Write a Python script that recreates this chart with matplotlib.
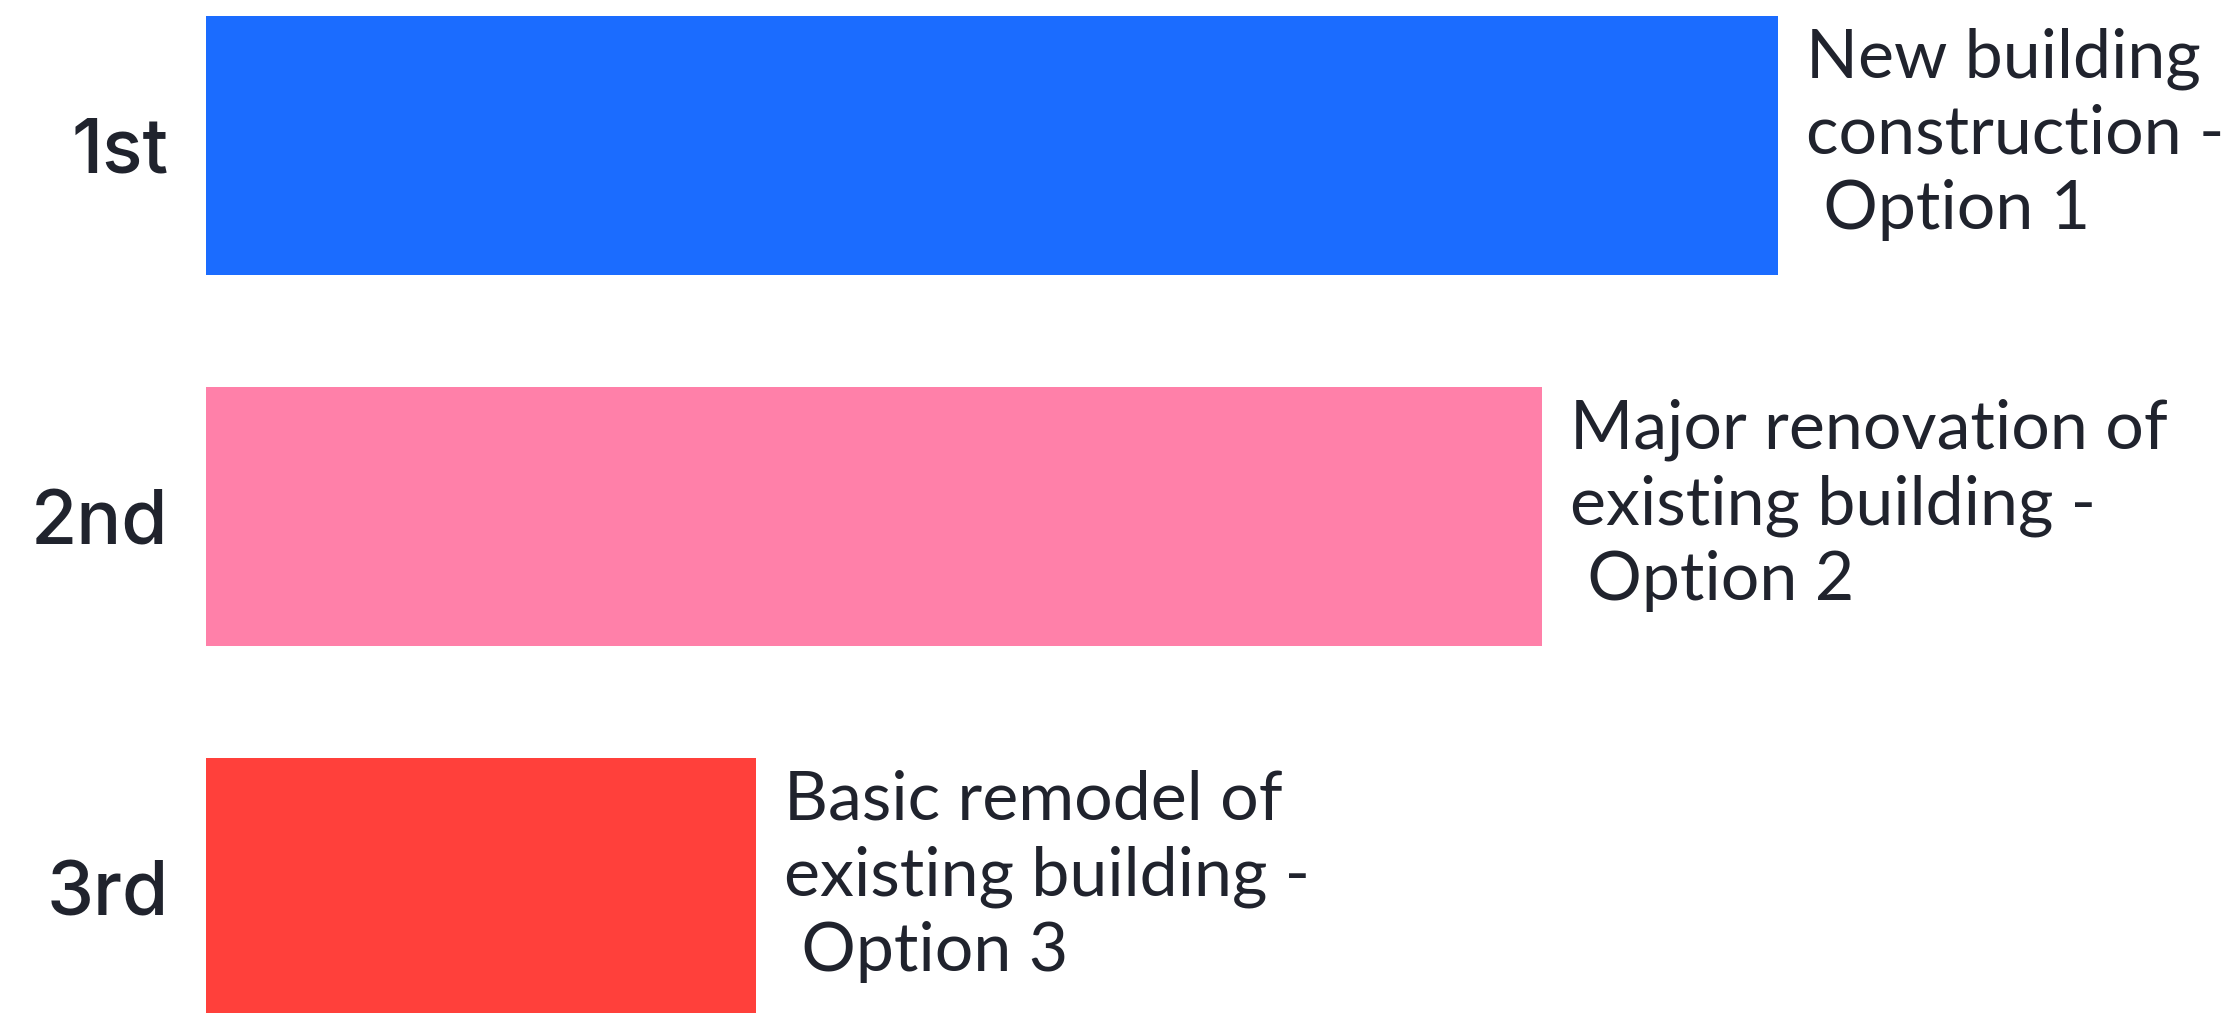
import matplotlib
matplotlib.use("Agg")
from matplotlib import pyplot as plt

# ranks, scores and option labels
ranks = ["1st", "2nd", "3rd"]
scores = [100, 85, 35]
options = [
    "New building\nconstruction -\n Option 1",
    "Major renovation of\nexisting building -\n Option 2",
    "Basic remodel of\nexisting building -\n Option 3",
]
colors = ["#1b6cff", "#ff80a9", "#ff403b"]

text_color = "#20232d"

fig = plt.figure(figsize=(22.39, 10.13), dpi=100)
ax = fig.add_axes([206 / 2239, 0, 1 - 206 / 2239, 1])

pos = list(range(len(ranks)))
bars = ax.barh(pos, scores, height=0.7, color=colors)

ax.set_xlim(0, 100 * 2033 / 1572)
ax.set_ylim(2.338, -0.392)

ax.set_yticks(pos)
ax.set_yticklabels(ranks, fontsize=54, fontfamily="Inter", fontweight="medium",
                   color=text_color)
ax.tick_params(axis="y", length=0, pad=27)
ax.set_xticks([])
for s in ax.spines.values():
    s.set_visible(False)

for b, txt in zip(bars, options):
    ax.annotate(txt, xy=(b.get_width(), b.get_y() + b.get_height() / 2),
                xytext=(20, 8), textcoords="offset points",
                ha="left", va="center", fontsize=49, fontfamily="Lato",
                color=text_color, linespacing=1.27)

fig.savefig("out.png", dpi=100)
